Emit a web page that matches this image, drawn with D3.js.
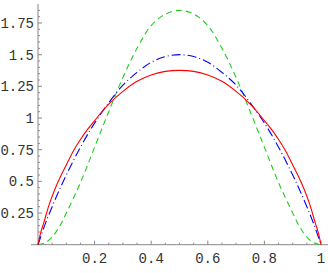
<!DOCTYPE html>
<html>
<head>
<meta charset="utf-8">
<script src="https://cdn.jsdelivr.net/npm/d3@7"></script>
<style>
  body { margin: 0; background: #fff; }
  text { font-family: "Liberation Mono", "DejaVu Sans Mono", monospace; font-size: 14px; fill: #333; }
</style>
</head>
<body>
<svg id="chart" width="328" height="273"></svg>
<script>
// values (left half up to x = 0.5, curves are symmetric)
let xsRed = [0, 0.01, 0.02, 0.04, 0.06, 0.08, 0.1, 0.125, 0.15, 0.175, 0.2, 0.25, 0.3, 0.35, 0.4, 0.45, 0.5];
let ysRed = [0, 0.1, 0.17, 0.32, 0.44, 0.54, 0.63, 0.74, 0.83, 0.91, 0.98, 1.11, 1.21, 1.29, 1.34, 1.368, 1.376];

let xsBlue = [0, 0.025, 0.05, 0.075, 0.1, 0.15, 0.2, 0.25, 0.3, 0.35, 0.4, 0.45, 0.5];
let ysBlue = [0, 0.16, 0.3, 0.43, 0.55, 0.77, 0.96, 1.12, 1.26, 1.36, 1.44, 1.485, 1.5];

let xsGreen = [0, 0.025, 0.05, 0.075, 0.1, 0.15, 0.2, 0.25, 0.3, 0.35, 0.4, 0.45, 0.5];
let ysGreen = [0, 0.015, 0.06, 0.14, 0.25, 0.49, 0.77, 1.05, 1.32, 1.55, 1.73, 1.82, 1.85];

let xTicks = [0.2, 0.4, 0.6, 0.8, 1];
let yTicks = [0.25, 0.5, 0.75, 1, 1.25, 1.5, 1.75];

// mirror the half curve around x = 0.5
let fullCurve = (xs, ys) => {
    let pts = xs.map((x, i) => [x, ys[i]]);
    let right = pts.slice(0, -1).reverse().map(p => [1 - p[0], p[1]]);
    return pts.concat(right);
};

var svg = d3.select("#chart");

var x = d3.scaleLinear().domain([0, 1]).range([38, 321]);
var y = d3.scaleLinear().domain([0, 1.9]).range([244.7, 4]);

// axes lines
svg.append("line")
    .attr("x1", 31).attr("x2", 328)
    .attr("y1", y(0)).attr("y2", y(0))
    .attr("stroke", "#888").attr("stroke-width", 1);
svg.append("line")
    .attr("x1", x(0)).attr("x2", x(0))
    .attr("y1", y(0)).attr("y2", y(1.9))
    .attr("stroke", "#888").attr("stroke-width", 1);

// minor + major ticks, pointing into the plot
let xMinor = d3.range(0.05, 1.001, 0.05);
svg.append("g").selectAll("line")
    .data(xMinor)
    .enter().append("line")
    .attr("x1", d => x(d)).attr("x2", d => x(d))
    .attr("y1", y(0))
    .attr("y2", d => xTicks.some(t => Math.abs(t - d) < 1e-6) ? y(0) - 4 : y(0) - 2)
    .attr("stroke", "#888");

let yMinor = d3.range(0.05, 1.86, 0.05);
svg.append("g").selectAll("line")
    .data(yMinor)
    .enter().append("line")
    .attr("y1", d => y(d)).attr("y2", d => y(d))
    .attr("x1", x(0))
    .attr("x2", d => yTicks.some(t => Math.abs(t - d) < 1e-6) ? x(0) + 4 : x(0) + 2)
    .attr("stroke", "#888");

// tick labels
svg.append("g").selectAll("text")
    .data(xTicks)
    .enter().append("text")
    .attr("x", d => x(d))
    .attr("y", 263)
    .attr("text-anchor", "middle")
    .text(d => d3.format("")(d));

svg.append("g").selectAll("text")
    .data(yTicks)
    .enter().append("text")
    .attr("x", 34)
    .attr("y", d => y(d))
    .attr("dy", "0.36em")
    .attr("text-anchor", "end")
    .text(d => d3.format("")(d));

var line = d3.line()
    .x(d => x(d[0]))
    .y(d => y(d[1]))
    .curve(d3.curveCatmullRom);

svg.append("path")
    .attr("d", line(fullCurve(xsGreen, ysGreen)))
    .attr("fill", "none")
    .attr("stroke", "#22cc22")
    .attr("stroke-width", 1.1)
    .attr("stroke-dasharray", "6,4");

svg.append("path")
    .attr("d", line(fullCurve(xsBlue, ysBlue)))
    .attr("fill", "none")
    .attr("stroke", "#0000ff")
    .attr("stroke-width", 1.1)
    .attr("stroke-dasharray", "9,3,1,3");

svg.append("path")
    .attr("d", line(fullCurve(xsRed, ysRed)))
    .attr("fill", "none")
    .attr("stroke", "#ff0000")
    .attr("stroke-width", 1.1);
</script>
</body>
</html>
